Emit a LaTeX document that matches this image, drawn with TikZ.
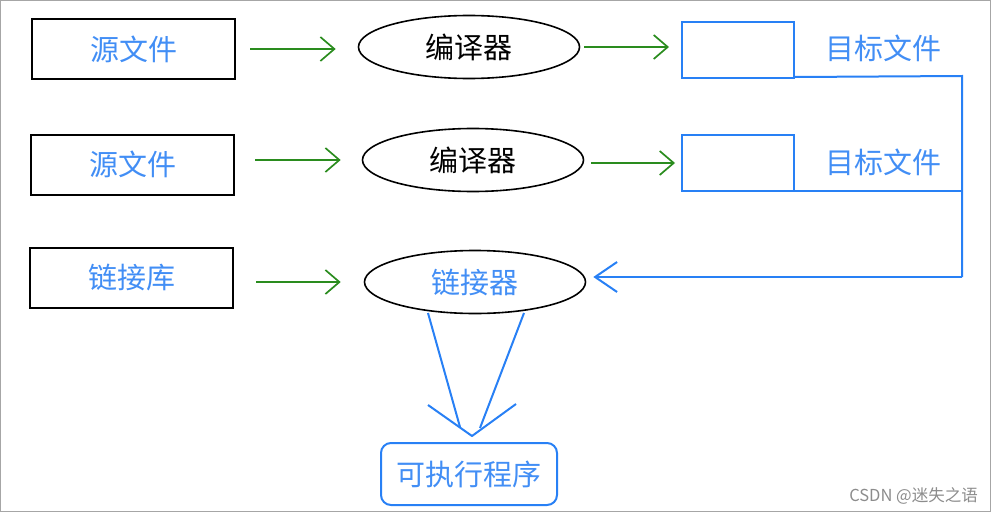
\documentclass[tikz,border=0pt]{standalone}
\usepackage{fontspec}
\setmainfont{Noto Sans CJK SC}
\usetikzlibrary{arrows.meta,shapes.geometric}
\definecolor{tblue}{RGB}{66,142,245}
\definecolor{lblue}{RGB}{40,128,245}
\definecolor{tgreen}{RGB}{42,140,30}
\tikzset{
  srcbox/.style={draw=black, line width=2pt, minimum width=203pt, minimum height=60pt, font=\fontsize{29}{32}\selectfont, text=tblue, inner sep=0pt},
  compell/.style={draw=black, ellipse, line width=1.6pt, minimum width=221pt, minimum height=63pt, font=\fontsize{29}{32}\selectfont, inner sep=0pt},
  objbox/.style={draw=lblue, line width=2pt, minimum width=112pt, minimum height=56pt, inner sep=0pt},
  objlabel/.style={font=\fontsize{29}{32}\selectfont, text=tblue, inner sep=0pt},
  greenarrow/.style={draw=tgreen, line width=1.7pt, -{Straight Barb[length=14pt,width=24pt,line width=1.7pt]}},
  blueline/.style={draw=lblue, line width=2pt},
  exebox/.style={draw=lblue, line width=2pt, rounded corners=10pt, minimum width=176pt, minimum height=62pt, font=\fontsize{29}{32}\selectfont, text=tblue, inner sep=0pt},
}
\begin{document}
\begin{tikzpicture}[x=1pt,y=-1pt]
\useasboundingbox (0,0) rectangle (993,514);
\draw[gray!70, line width=1pt] (0.5,0.5) rectangle (990,511.5);

% row 1
\node[srcbox] (s1) at (133.5,49) {源文件};
\node[compell] (c1) at (469,47) {编译器};
\node[objbox] (o1) at (738,50) {};
\node[objlabel] (l1) at (883,48) {目标文件};
% row 2
\node[srcbox] (s2) at (132.5,164.5) {源文件};
\node[compell] (c2) at (473,160) {编译器};
\node[objbox] (o2) at (738,163) {};
\node[objlabel] (l2) at (883,162) {目标文件};
% row 3
\node[srcbox] (s3) at (131.5,278) {链接库};
\node[compell, text=tblue] (c3) at (475,282) {链接器};
% executable
\node[exebox] (ex) at (469,474) {可执行程序};

% green arrows
\draw[greenarrow, shorten <=14pt, shorten >=22pt] (s1.east) -- (s1.east -| c1.west);
\draw[greenarrow, shorten <=4pt, shorten >=12pt] (c1.east) -- (c1.east -| o1.west);
\draw[greenarrow, shorten <=20pt, shorten >=21pt] (s2.east |- c2.west) -- (c2.west);
\draw[greenarrow, shorten <=7pt, shorten >=6pt] (c2.east |- o2.west) -- (o2.west);
\draw[greenarrow, shorten <=22pt, shorten >=23pt] (s3.east |- c3.west) -- (c3.west);

% blue collection lines
\coordinate (k1) at (962,76);
\coordinate (k2) at (962,191);
\coordinate (k3) at (962,277);
\draw[blueline] (o1.south east) ++(0,-2) -- (k1) -- (k3);
\draw[blueline] (o2.south east) ++(0,-1) -- (k2);
\draw[blueline, -{Straight Barb[length=22pt,width=30pt,line width=2pt]}, shorten >=7pt] (k3) -- (c3.east |- k3);

% linker to executable
\coordinate (a1) at (428,313);
\coordinate (a2) at (460,427);
\coordinate (b1) at (524,313);
\coordinate (b2) at (480,428);
\coordinate (h1) at (428,405);
\coordinate (h0) at (472,436);
\coordinate (h2) at (516,404);
\draw[blueline] (a1) -- (a2);
\draw[blueline] (b1) -- (b2);
\draw[blueline, line join=round] (h1) -- (h0) -- (h2);

% watermark
\node[font=\fontsize{16.5}{18}\selectfont, text=gray!90, anchor=east, inner sep=0pt] (wm) at (978,496) {CSDN @迷失之语};
\end{tikzpicture}
\end{document}
